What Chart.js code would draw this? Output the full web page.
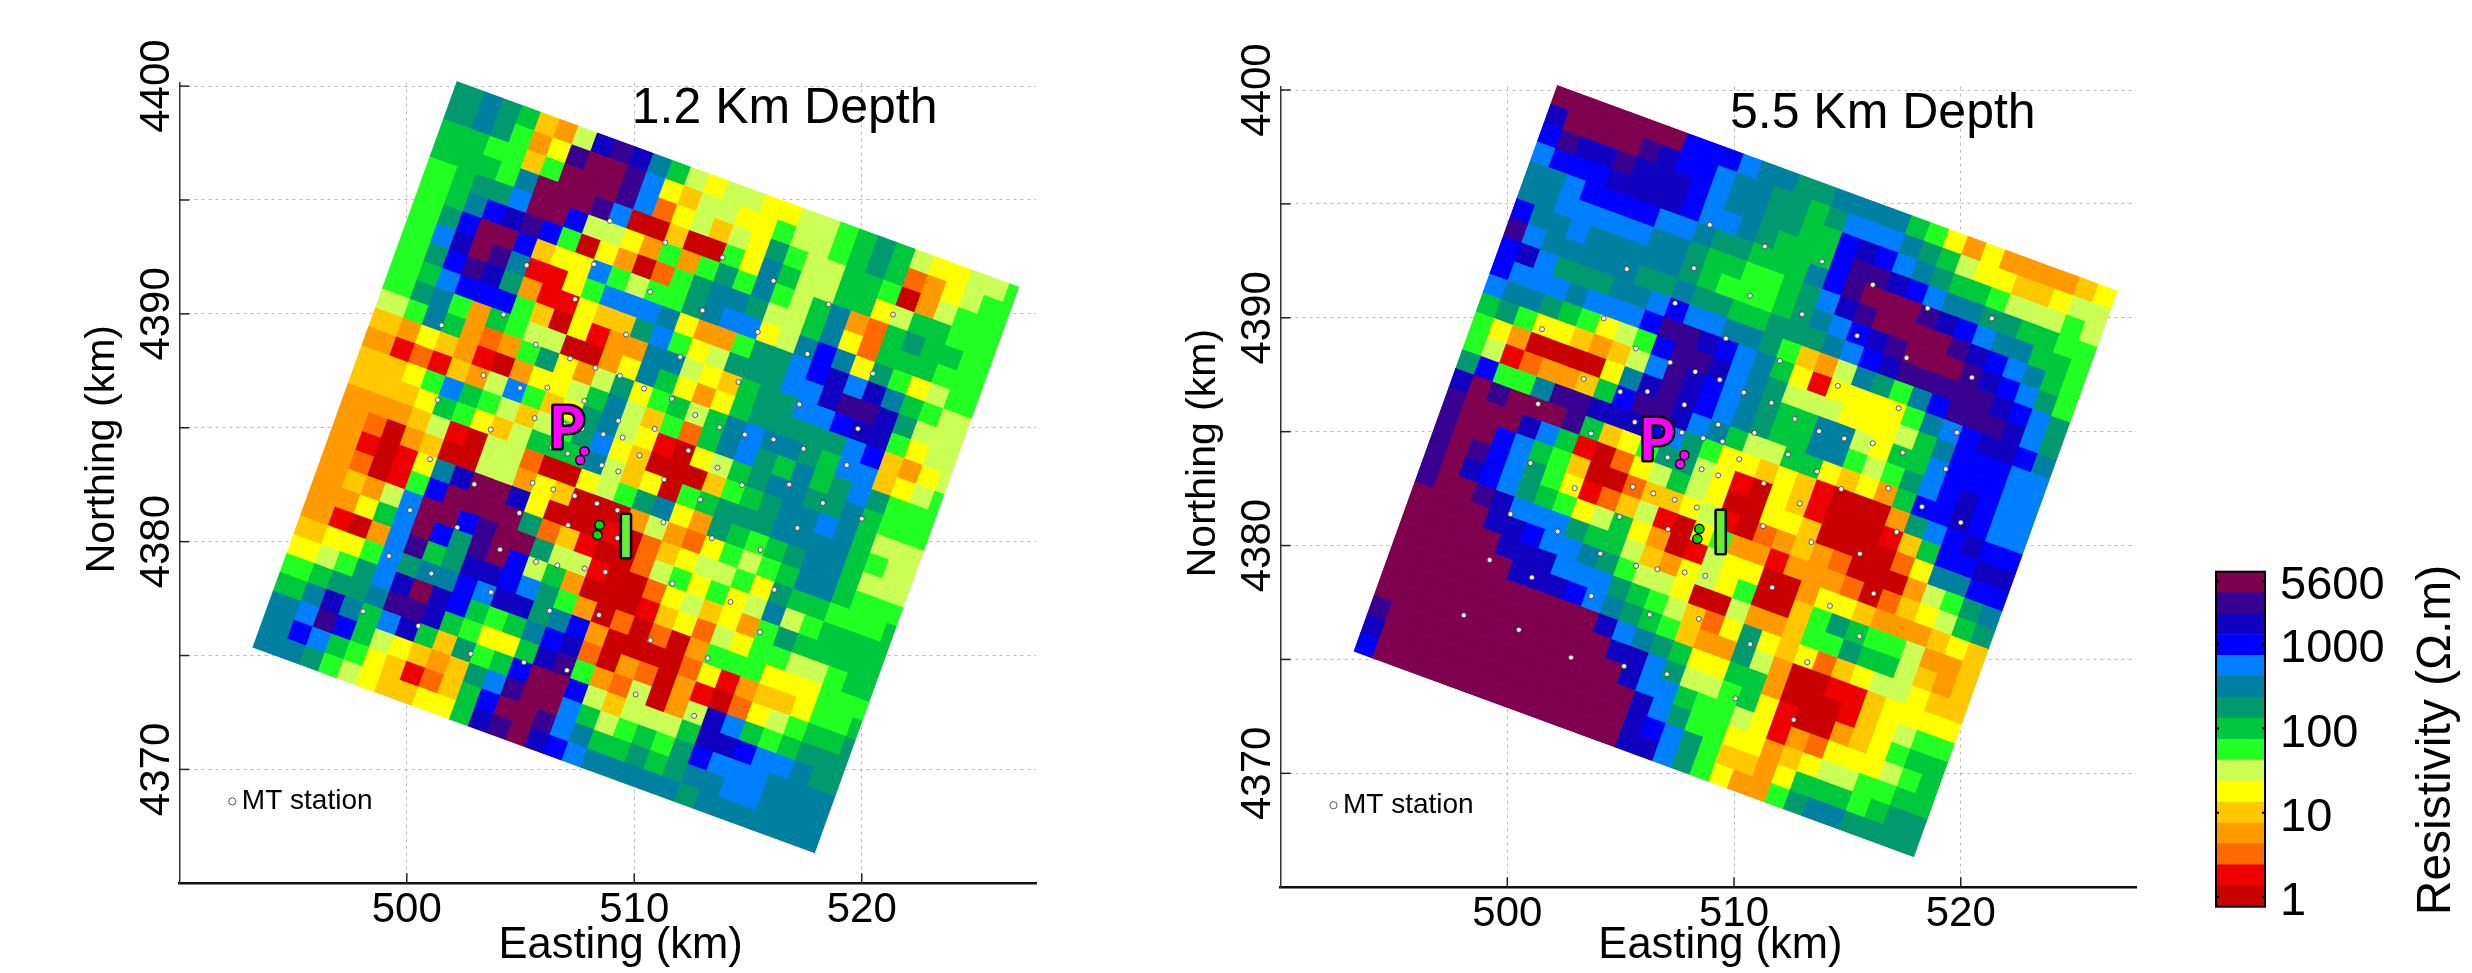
<!DOCTYPE html>
<html>
<head>
<meta charset="utf-8">
<style>
  html, body { margin: 0; padding: 0; background: #fff; }
  canvas { position: absolute; top: 0; }
</style>
<script src="https://cdn.jsdelivr.net/npm/chart.js@4"></script>
</head>
<body>
<canvas id="depth12" width="1100" height="973" style="left:0"></canvas>
<canvas id="depth55" width="1060" height="973" style="left:1100px"></canvas>
<canvas id="colorbar" width="312" height="973" style="left:2160px"></canvas>
<script>
/* one hex digit per cell = resistivity level, 0 = 1 ohm.m ... f = 5600 ohm.m */
const depth12Rows = [
  "9a98436ded"+"a865665566"+"7898655667",
  "9a9735effe"+"b546655766"+"7898235677",
  "887747fffe"+"b256465976"+"6887036777",
  "8887afffeb"+"0040075a86"+"6885688777",
  "7899bffc66"+"5373797a76"+"8a32898877",
  "78acdec705"+"30279aa966"+"8a52888777",
  "79cffc455b"+"76779abb56"+"aca5975677",
  "7bdfea1157"+"bbba533799"+"bcdbda8766",
  "79ced93115"+"449b756999"+"bbdeed9666",
  "78bccc7405"+"133aa65489"+"9bbcdd7566",
  "79a7387660"+"035a853589"+"9999bc4356",
  "67a8323795"+"36957868ab"+"aa98bb4567",
  "4354310355"+"68a64728ab"+"98a89b9777",
  "3121436b74"+"59a6510568"+"9aa99a8777",
  "4457b87646"+"79b5400047"+"89aaba8666",
  "4445875468"+"88a6450789"+"99aaaa8766",
  "3334610662"+"005679a539"+"8789aa8666",
  "3203400663"+"5400036325"+"7678aa8777",
  "31015adffd"+"5000102456"+"6759887778",
  "32017cffff"+"9241002675"+"756a678888",
  "3436bffcef"+"f966100256"+"4537988888",
  "3358bfc9ef"+"c683000145"+"2657766788",
  "3103be89dd"+"cb97302020"+"3777555777",
  "4557b9aacb"+"dd9ac30000"+"2513445778",
  "5679bdfdc8"+"78acd20320"+"3102567889",
  "7899aeed87"+"558de73260"+"36db878999",
  "8ada8bd849"+"78cffc6466"+"68ddcbba99",
  "abec865434"+"9beffb8678"+"79cbbbaaaa",
  "acb8754124"+"8cffeba889"+"89aabbaaaa",
  "aa97654455"+"8defdcbaaa"+"aa9aaaaaaa"
];
const depth55Rows = [
  "fffffffccc"+"baa99aaaa8"+"7535333345",
  "dffffedccb"+"aa9989bbba"+"9865544566",
  "ceddedddcb"+"aa9988cdcb"+"a988766676",
  "bcccddddcb"+"ba9888ceed"+"cbaa998877",
  "aabccccbba"+"99888aceff"+"fedcbaa887",
  "aabbbbbaa9"+"887789bdef"+"fffedcba87",
  "caabaaaaa9"+"877789abcd"+"efffedcb97",
  "ebaaaaa99a"+"9988999abc"+"deeeeedcb9",
  "cdb999aabc"+"bbaa97436a"+"97aceeedb9",
  "cbbbabbbce"+"edcba85155"+"557abcddca",
  "baa987567c"+"eedba96665"+"5568acccbb",
  "897554346b"+"edcba988aa"+"6588bcccbb",
  "75300005ad"+"edcba988aa"+"7679bcdcbb",
  "76123348ce"+"edba866885"+"4538ccdcbb",
  "9c77aeeddd"+"cb97554541"+"00039bcdcc",
  "dfefffe845"+"7996510541"+"000148ccdd",
  "efffdb8102"+"5686500554"+"000025aacc",
  "effcb87400"+"2445610234"+"320003679a",
  "efecb97512"+"4610573313"+"3320245689",
  "efdcb98756"+"8530165500"+"3554333454",
  "effedbbb98"+"8643565700"+"4798776334",
  "ffffddcbba"+"9766500633"+"4779886434",
  "fffffdddbb"+"b987642595"+"4524566544",
  "ffffffdddc"+"ba98743396"+"3001145555",
  "ffffffffff"+"fdba985588"+"3000145677",
  "ffffffffff"+"ffddb96678"+"5100345788",
  "ffffffffff"+"fffdbb8776"+"5132555678",
  "efffffffff"+"ffffdb9775"+"5345667788",
  "dfffffffff"+"ffffdcb974"+"4358887899",
  "cfffffffff"+"ffffddb975"+"3379aa9999"
];
const levelColors = ["#c80000","#ee0000","#ff6a00","#ff9a00","#ffc800","#ffff00","#ccff55","#22ff22",
  "#00c83c","#009a6e","#0080a0","#0080ff","#0000ff","#1000c0","#380090","#800050"];
const levelEdges = [0.767,1.36,2.41,4.27,7.57,13.4,23.8,42.2,74.8,133,235,417,740,1310,2320,4120,7300];
const colorbarTicks = [1,10,100,1000,5600];

const stationEast = [508.93,505.27,508.23,507.40,504.25,501.53,509.64,505.67,507.18,508.29,503.37,509.37,504.98,506.18,501.36,507.81,505.62,509.30,503.69,506.91,507.70,508.64,509.49,506.37,507.07,501.02,508.57,
  511.36,513.88,516.12,510.70,518.54,513.00,521.37,515.43,512.02,517.61,520.49,514.58,510.43,511.65,517.26,512.68,510.90,513.75,514.86,516.12,517.44,519.83,510.23,512.38,
  502.97,505.53,506.44,507.38,500.14,504.95,508.36,509.26,502.22,507.09,509.26,504.10,499.22,505.68,506.62,507.82,508.73,501.08,503.70,506.28,508.45,498.08,500.51,502.81,505.15,507.04,510.06,509.30,
  511.31,513.66,516.81,514.73,512.90,518.29,520.00,511.28,517.17,513.41,515.55,511.68,516.16,514.23,515.53,510.71,513.23,512.63,519.34];
const stationNorth = [4394.08,4392.14,4392.18,4390.64,4389.97,4389.50,4389.09,4388.65,4388.04,4387.63,4387.31,4387.28,4386.75,4386.76,4386.22,4386.18,4385.42,4385.31,4384.92,4385.14,4384.96,4384.71,4384.57,4384.13,4383.87,4383.62,4383.35,
  4393.13,4392.47,4391.45,4390.97,4390.42,4390.15,4389.97,4389.21,4388.11,4388.24,4387.38,4387.01,4386.72,4386.27,4386.03,4385.56,4384.95,4385.02,4384.70,4384.49,4384.08,4384.96,4383.79,4384.00,
  4382.52,4382.58,4382.29,4382.01,4381.38,4381.26,4381.67,4381.38,4380.62,4380.72,4380.16,4379.65,4379.37,4379.11,4378.96,4378.82,4378.67,4378.60,4377.78,4376.97,4376.78,4376.94,4376.30,4375.08,4374.70,4374.35,4373.29,4383.08,
  4382.73,4383.25,4382.51,4382.48,4381.85,4381.70,4381.01,4380.85,4380.60,4380.15,4379.64,4378.16,4377.89,4377.35,4376.02,4375.67,4374.88,4372.35,4383.36];
const magentaEast = [507.81,507.62], magentaNorth = [4383.97,4383.58];
const greenEast = [508.47,508.38], greenNorth = [4380.73,4380.29];
const legendEast = [492.33], legendNorth = [4368.6];
const xTicks = [500,510,520];
const yTicks = [4370,4375,4380,4385,4390,4395,4400];

// survey grid, turned about 20 degrees
const gridOrigin = [502.2,4400.22];
const cellU = [0.824,-0.301];
const cellV = [-0.2995,-0.829];
const gridSize = 30;

const fontName = '"Liberation Sans", Arial, sans-serif';
Chart.defaults.font.family = fontName;
Chart.defaults.color = "#000";
Chart.defaults.animation = false;

// uShift: the 1.2 km rows were read half a cell further along the row
function buildCells(rows, uShift) {
  const cells = [];
  rows.forEach((row, j) => {
    const cols = uShift ? row[0] + row : row;
    [...cols].forEach((code, k) => {
      const a = uShift ? k : k + 0.5;
      cells.push({
        x: gridOrigin[0] + a * cellU[0] + (j + 0.5) * cellV[0],
        y: gridOrigin[1] + a * cellU[1] + (j + 0.5) * cellV[1],
        level: parseInt(code, 16),
      });
    });
  });
  return cells;
}

const toPoints = (xs, ys) => xs.map((x, i) => ({ x, y: ys[i] }));

const mapLabelsPlugin = {
  id: "mapLabels",
  beforeDatasetDraw(chart, args) {
    if (args.index !== 0) return;
    // keep the cells inside the rotated survey outline
    const { ctx, scales: { x, y } } = chart;
    const corner = (a, b) => [
      x.getPixelForValue(gridOrigin[0] + a * cellU[0] + b * cellV[0]),
      y.getPixelForValue(gridOrigin[1] + a * cellU[1] + b * cellV[1]),
    ];
    ctx.save();
    ctx.beginPath();
    ctx.moveTo(...corner(0, 0));
    ctx.lineTo(...corner(gridSize, 0));
    ctx.lineTo(...corner(gridSize, gridSize));
    ctx.lineTo(...corner(0, gridSize));
    ctx.closePath();
    ctx.clip();
  },
  afterDatasetDraw(chart, args) {
    if (args.index === 0) chart.ctx.restore();
  },
  afterDatasetsDraw(chart, _args, opts) {
    const { ctx, scales: { x, y }, chartArea } = chart;
    ctx.save();
    // short ticks pointing inward
    ctx.strokeStyle = "#222";
    ctx.lineWidth = 1.5;
    x.ticks.forEach((t) => {
      const px = x.getPixelForValue(t.value);
      ctx.beginPath(); ctx.moveTo(px, chartArea.bottom); ctx.lineTo(px, chartArea.bottom - 10); ctx.stroke();
    });
    y.ticks.forEach((t) => {
      const py = y.getPixelForValue(t.value);
      ctx.beginPath(); ctx.moveTo(chartArea.left, py); ctx.lineTo(chartArea.left + 10, py); ctx.stroke();
    });
    ctx.textAlign = "left";
    ctx.textBaseline = "alphabetic";
    ctx.fillStyle = "#000";
    ctx.font = `50px ${fontName}`;
    ctx.fillText(opts.depthLabel, x.getPixelForValue(opts.depthAt[0]), y.getPixelForValue(opts.depthAt[1]));
    ctx.font = `28px ${fontName}`;
    ctx.fillText("MT station", x.getPixelForValue(492.75), y.getPixelForValue(4368.25));
    // axis titles
    ctx.textAlign = "center";
    ctx.textBaseline = "middle";
    ctx.font = `43.5px ${fontName}`;
    ctx.fillText("Easting (km)", x.getPixelForValue(509.4), 946);
    ctx.save();
    ctx.translate(chartArea.left - 77, y.getPixelForValue(4384.06));
    ctx.rotate(-Math.PI / 2);
    ctx.font = `41px ${fontName}`;
    ctx.fillText("Northing (km)", 0, 0);
    ctx.restore();
    // P and I markers
    ctx.font = `bold 57px Lato, ${fontName}`;
    ctx.lineJoin = "round";
    ctx.lineWidth = 5;
    ctx.strokeStyle = "#000";
    [["P", opts.pAt, "#ff00ff"], ["I", opts.iAt, "#66ee33"]].forEach(([text, at, color]) => {
      const px = x.getPixelForValue(at[0]), py = y.getPixelForValue(at[1]);
      ctx.strokeText(text, px, py);
      ctx.fillStyle = color;
      ctx.fillText(text, px, py);
    });
    ctx.restore();
  },
};

function renderDepthMap(canvasId, rows, uShift, box, labels) {
  const ctx = document.getElementById(canvasId);
  return new Chart(ctx, {
    type: "scatter",
    data: {
      datasets: [
        {
          data: buildCells(rows, uShift),
          order: 4,
          clip: false,
          pointStyle: "rect",
          pointRotation: 20,
          pointRadius: 14.6,
          pointBorderWidth: 0,
          pointBackgroundColor: (c) => levelColors[c.raw ? c.raw.level : 0],
        },
        {
          data: toPoints(stationEast, stationNorth),
          order: 3,
          pointRadius: 2.5,
          pointBorderWidth: 0.8,
          pointBorderColor: "#333",
          pointBackgroundColor: "#fff",
        },
        {
          data: toPoints(magentaEast, magentaNorth),
          order: 2,
          pointRadius: 4.6,
          pointBorderWidth: 1.5,
          pointBorderColor: "#000",
          pointBackgroundColor: "#ff00ff",
        },
        {
          data: toPoints(greenEast, greenNorth),
          order: 2,
          pointRadius: 4.6,
          pointBorderWidth: 1.5,
          pointBorderColor: "#000",
          pointBackgroundColor: "#00e000",
        },
        {
          data: toPoints(legendEast, legendNorth),
          order: 2,
          pointRadius: 3.6,
          pointBorderWidth: 1,
          pointBorderColor: "#555",
          pointBackgroundColor: "#fff",
        },
      ],
    },
    plugins: [mapLabelsPlugin],
    options: {
      responsive: false,
      events: [],
      layout: { padding: { left: 0, top: box.top, right: ctx.width - box.right, bottom: 0 } },
      plugins: { legend: { display: false }, tooltip: { enabled: false }, mapLabels: labels },
      scales: {
        x: {
          type: "linear",
          min: 490,
          max: box.xMax,
          afterBuildTicks: (s) => { s.ticks = xTicks.map((value) => ({ value })); },
          afterFit: (s) => { s.height = 973 - box.bottom; },
          ticks: { font: { size: 42 }, padding: 2, maxRotation: 0, callback: (v) => String(v) },
          grid: { color: "rgba(130,130,130,0.55)", drawTicks: false },
          border: { color: "#111", width: 2.5, dash: [3, 4] },
        },
        y: {
          type: "linear",
          min: 4365,
          max: 4400.15,
          afterBuildTicks: (s) => { s.ticks = yTicks.map((value) => ({ value })); },
          afterFit: (s) => { s.width = box.left; },
          ticks: {
            font: { size: 42 },
            minRotation: 90,
            maxRotation: 90,
            crossAlign: "center",
            padding: -25,
            callback: (v) => (v % 10 === 0 ? String(v) : ""),
          },
          grid: { color: "rgba(130,130,130,0.55)", drawTicks: false },
          border: { color: "#333", width: 1.5, dash: [3, 4] },
        },
      },
    },
  });
}

const colorbarPlugin = {
  id: "colorbarFrame",
  afterDatasetsDraw(chart) {
    const { ctx, chartArea: a, scales: { y } } = chart;
    ctx.save();
    ctx.strokeStyle = "#000";
    ctx.lineWidth = 2;
    ctx.strokeRect(a.left, a.top, a.right - a.left, a.bottom - a.top);
    colorbarTicks.forEach((v) => {
      const py = y.getPixelForValue(v);
      ctx.beginPath();
      ctx.moveTo(a.left, py); ctx.lineTo(a.left + 3, py);
      ctx.moveTo(a.right - 3, py); ctx.lineTo(a.right, py);
      ctx.stroke();
    });
    ctx.translate(277, 740);
    ctx.rotate(-Math.PI / 2);
    ctx.font = `48px ${fontName}`;
    ctx.fillStyle = "#000";
    ctx.textAlign = "center";
    ctx.textBaseline = "middle";
    ctx.fillText("Resistivity (Ω.m)", 0, 0);
    ctx.restore();
  },
};

function renderColorbar() {
  new Chart(document.getElementById("colorbar"), {
    type: "bar",
    data: {
      labels: [""],
      datasets: levelColors.map((color, i) => ({
        data: [[levelEdges[i], levelEdges[i + 1]]],
        backgroundColor: color,
        grouped: false,
        barPercentage: 1,
        categoryPercentage: 1,
      })),
    },
    plugins: [colorbarPlugin],
    options: {
      responsive: false,
      events: [],
      layout: { padding: { left: 56, top: 571.7, right: 0, bottom: 66.3 } },
      plugins: { legend: { display: false }, tooltip: { enabled: false } },
      scales: {
        x: { display: false },
        y: {
          type: "logarithmic",
          position: "right",
          min: levelEdges[0],
          max: levelEdges[16],
          afterBuildTicks: (s) => { s.ticks = colorbarTicks.map((value) => ({ value })); },
          afterFit: (s) => { s.width = 207; },
          ticks: { font: { size: 47 }, padding: 15, labelOffset: 5, callback: (v) => String(v) },
          grid: { display: false, drawTicks: false },
          border: { display: false },
        },
      },
    },
  });
}

renderDepthMap("depth12", depth12Rows, true,
  { left: 179.3, right: 1036, top: 82.7, bottom: 883.3, xMax: 527.66 },
  { depthLabel: "1.2 Km Depth", depthAt: [509.89, 4398.38], pAt: [507.03, 4384.94], iAt: [509.63, 4380.12] });
renderDepthMap("depth55", depth55Rows, false,
  { left: 180.6, right: 1036, top: 86.6, bottom: 887.2, xMax: 527.73 },
  { depthLabel: "5.5 Km Depth", depthAt: [509.82, 4398.33], pAt: [506.59, 4384.55], iAt: [509.41, 4380.5] });
renderColorbar();
</script>
</body>
</html>
